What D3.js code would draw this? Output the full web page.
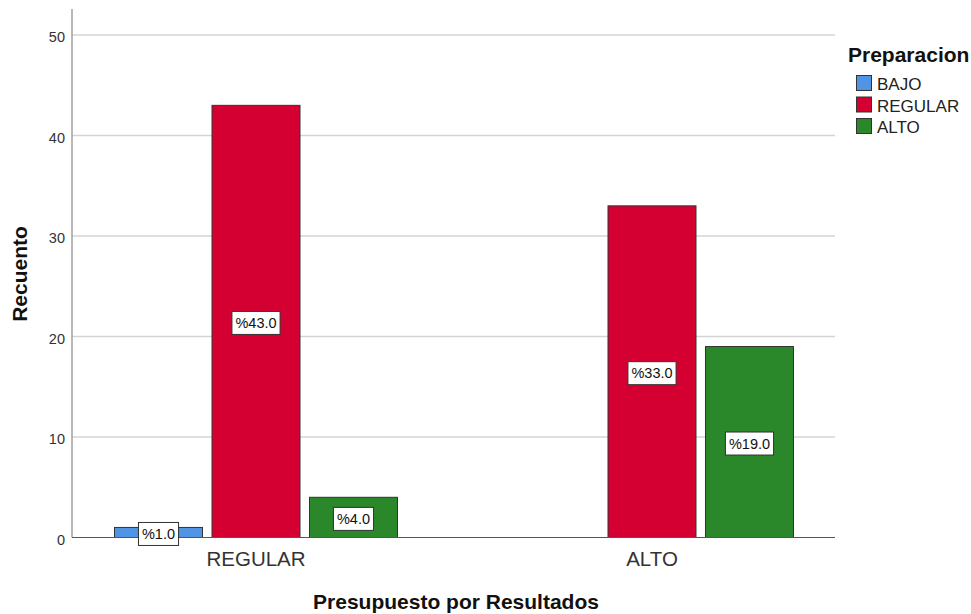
<!DOCTYPE html>
<html><head><meta charset="utf-8">
<script src="https://cdn.jsdelivr.net/npm/d3@7"></script>
<style>body{margin:0;background:#fff;} svg{display:block;font-family:"Liberation Sans",Arial,sans-serif;}</style>
</head><body>
<svg id="c" width="971" height="614"></svg>
<script>
const categories = ["REGULAR", "ALTO"];
const seriesNames = ["BAJO", "REGULAR", "ALTO"];
const seriesColors = ["#5193e4", "#d50032", "#2a872a"];
const valuesBAJO = [1, 0];
const valuesREGULAR = [43, 33];
const valuesALTO = [4, 19];
const yTicks = [0, 10, 20, 30, 40, 50];

(function () {
const series = [valuesBAJO, valuesREGULAR, valuesALTO];
const svg = d3.select("#c");
const pLeft = 72, pRight = 835, pTop = 9, pBottom = 537.5;

const y = d3.scaleLinear().domain([0, 50]).range([pBottom, 35]);
const x0 = d3.scaleBand().domain(categories).range([58, 850]).paddingInner(0.2854).paddingOuter(0.1427);
const x1 = d3.scaleBand().domain(seriesNames).range([0, x0.bandwidth()]).paddingInner(0.0974).paddingOuter(0);

// gridlines
svg.append("g").selectAll("line").data(yTicks.filter(d => d > 0)).join("line")
  .attr("x1", pLeft).attr("x2", pRight).attr("y1", d => y(d)).attr("y2", d => y(d))
  .attr("stroke", "#d4d4d4").attr("stroke-width", 1.5);

// y axis
const yAxis = d3.axisLeft(y).tickValues(yTicks).tickSize(0).tickPadding(7);
const gy = svg.append("g").attr("transform", `translate(${pLeft},0)`).call(yAxis);
gy.select(".domain").remove();
gy.selectAll("text").attr("fill", "#333").attr("font-family", "'Liberation Sans',Arial,sans-serif")
  .attr("font-size", 14.5).attr("dy", "0.45em");
svg.append("line").attr("x1", pLeft).attr("x2", pLeft).attr("y1", pTop).attr("y2", pBottom)
  .attr("stroke", "#a0a0a0").attr("stroke-width", 1.5);

// bars
const data = [];
categories.forEach((c, ci) => seriesNames.forEach((s, si) => data.push({c, s, si, v: series[si][ci]})));
const bars = data.filter(d => d.v > 0);
svg.append("g").selectAll("rect").data(bars).join("rect")
  .attr("x", d => x0(d.c) + x1(d.s)).attr("width", x1.bandwidth())
  .attr("y", d => y(d.v)).attr("height", d => y(0) - y(d.v))
  .attr("fill", d => seriesColors[d.si]).attr("stroke", "#333").attr("stroke-width", 1);

// x axis
const xAxis = d3.axisBottom(x0).tickSize(0).tickPadding(13.5);
const gx = svg.append("g").attr("transform", `translate(0,${pBottom})`).call(xAxis);
gx.select(".domain").remove();
gx.selectAll("text").attr("font-size", 20.5).attr("fill", "#333").attr("font-family", "'Liberation Sans',Arial,sans-serif");
svg.append("line").attr("x1", pLeft).attr("x2", pRight).attr("y1", pBottom).attr("y2", pBottom)
  .attr("stroke", "#555").attr("stroke-width", 1.2);

// labels
const lg = svg.append("g").selectAll("g").data(bars).join("g")
  .attr("transform", d => `translate(${x0(d.c) + x1(d.s) + x1.bandwidth() / 2},${(y(d.v) + y(0)) / 2 + 1.5})`);
lg.each(function(d) {
  const g = d3.select(this);
  const t = g.append("text").text("%" + d.v.toFixed(1)).attr("text-anchor", "middle").attr("dy", "0.36em")
    .attr("font-size", 14.5).attr("fill", "#111");
  const w = t.node().getComputedTextLength() + 7;
  g.insert("rect", "text").attr("x", -w / 2).attr("y", -11.5).attr("width", w).attr("height", 23)
    .attr("fill", "#fff").attr("stroke", "#333").attr("stroke-width", 1);
});

// axis titles
svg.append("text").attr("transform", "translate(27,274) rotate(-90)").attr("text-anchor", "middle")
  .attr("font-size", 21).attr("font-weight", "bold").attr("fill", "#111").text("Recuento");
svg.append("text").attr("x", 456).attr("y", 608.5).attr("text-anchor", "middle")
  .attr("font-size", 21).attr("font-weight", "bold").attr("fill", "#111").text("Presupuesto por Resultados");

// legend
svg.append("text").attr("x", 848).attr("y", 62).attr("font-size", 21).attr("font-weight", "bold")
  .attr("fill", "#111").text("Preparacion");
const leg = svg.append("g").selectAll("g").data(seriesNames).join("g")
  .attr("transform", (d, i) => `translate(856.5,${75.5 + i * 21.5})`);
leg.append("rect").attr("width", 15).attr("height", 15).attr("fill", (d, i) => seriesColors[i])
  .attr("stroke", "#333").attr("stroke-width", 1);
leg.append("text").attr("x", 20.5).attr("y", 14.5).attr("font-size", 17).attr("fill", "#222").text(d => d);
})();
</script>
</body></html>
